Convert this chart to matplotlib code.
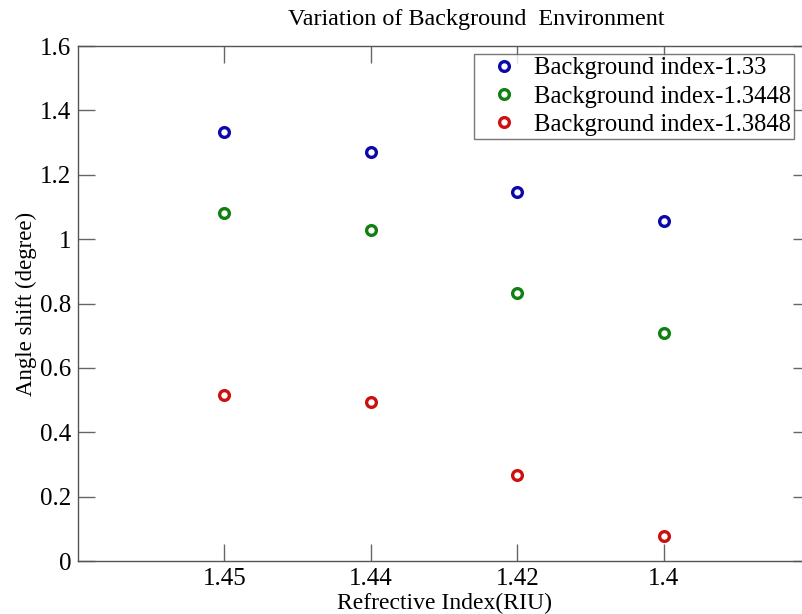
import matplotlib
matplotlib.use("Agg")
import matplotlib.pyplot as plt

categories = ["1.45", "1.44", "1.42", "1.4"]
series_names = ["Background index-1.33", "Background index-1.3448", "Background index-1.3848"]
blue_vals = [1.334, 1.270, 1.145, 1.057]
green_vals = [1.082, 1.030, 0.832, 0.707]
red_vals = [0.517, 0.494, 0.266, 0.079]
yticks = [0, 0.2, 0.4, 0.6, 0.8, 1, 1.2, 1.4, 1.6]
ytick_labels = ["0", "0.2", "0.4", "0.6", "0.8", "1", "1.2", "1.4", "1.6"]

plt.rcParams['font.family'] = ['Liberation Serif', 'DejaVu Serif']

fig = plt.figure(figsize=(8.02, 6.14), dpi=100)
ax = fig.add_axes([0.0973, 0.0863, 0.913, 0.8387])

x = list(range(1, len(categories) + 1))
colors = ["#0a0aa8", "#108010", "#cc1010"]
for vals, c, name in zip([blue_vals, green_vals, red_vals], colors, series_names):
    ax.plot(x, vals, linestyle='none', marker='o', markersize=7, markerfacecolor='none',
            markeredgecolor=c, markeredgewidth=2.4, label=name)

ax.set_xlim(0, 5)
ax.set_ylim(0, 1.6)
ax.set_xticks(x)
ax.set_xticklabels(categories)
ax.set_yticks(yticks)
ax.set_yticklabels(ytick_labels)
ax.tick_params(direction='in', length=12, width=1, color='#666666', labelsize=18,
               top=True, right=True, pad=5)
for s in ax.spines.values():
    s.set_color('#555555')
    s.set_linewidth(1)

ax.set_xlabel("Refrective Index(RIU)", fontsize=17, labelpad=2)
ax.set_ylabel("Angle shift (degree)", fontsize=16.5, labelpad=2)
ax.set_title("Variation of Background  Environment", fontsize=17.4, pad=15, x=0.544)

leg = ax.legend(loc='upper left', bbox_to_anchor=(0.541, 0.9845), fontsize=17.7, frameon=True,
                fancybox=False, edgecolor='#555555', handletextpad=0.1, borderpad=0.12,
                labelspacing=0.25, handlelength=2.2, borderaxespad=0.0)
leg.get_frame().set_linewidth(1)

fig.savefig("out.png", dpi=100)
